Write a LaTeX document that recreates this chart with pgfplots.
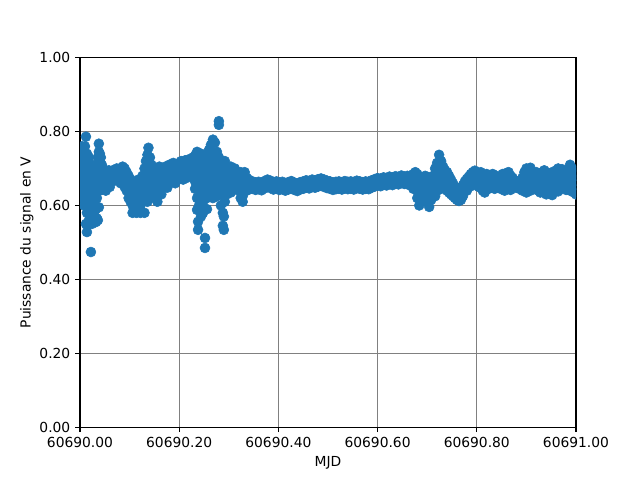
\documentclass[border=0pt]{standalone}
\usepackage{fontspec}
\setmainfont{DejaVu Sans}
\usepackage{pgfplots}
\pgfplotsset{compat=1.18}
\definecolor{mplblue}{RGB}{31,119,180}

\begin{document}
\begin{tikzpicture}
\useasboundingbox (-0.8in,-0.528in) rectangle (5.6in,4.272in);
\begin{axis}[
    at={(0,0)}, anchor=south west,
    scale only axis,
    width=4.96in, height=3.696in,
    xmin=0, xmax=1, ymin=0, ymax=1,
    xtick={0,0.2,0.4,0.6,0.8,1},
    xticklabels={60690.00,60690.20,60690.40,60690.60,60690.80,60691.00},
    ytick={0,0.2,0.4,0.6,0.8,1},
    yticklabel style={/pgf/number format/fixed, /pgf/number format/fixed zerofill, /pgf/number format/precision=2},
    /pgf/number format/assume math mode=true,
    xlabel={MJD},
    ylabel={Puissance du signal en V},
    ylabel style={yshift=-2.5pt},
    grid=major,
    major grid style={gray, line width=0.8pt},
    axis line style={black, line width=0.8pt},
    tick style={black, line width=0.8pt},
    major tick length=3.5pt,
    tick align=outside,
    tick pos=left,
    clip marker paths=true,
]
\addplot[only marks, mark=*, mark size=3.6pt, mplblue, mark options={draw=none, fill=mplblue}] coordinates {
(0.000,0.700) (0.000,0.680) (0.000,0.720) (0.000,0.740) (0.000,0.660)
(0.002,0.750) (0.002,0.690) (0.002,0.670) (0.002,0.710) (0.002,0.640)
(0.004,0.730) (0.004,0.700) (0.004,0.760) (0.004,0.680) (0.004,0.620)
(0.006,0.720) (0.006,0.690) (0.006,0.660) (0.006,0.650)
(0.008,0.740) (0.008,0.710) (0.008,0.680) (0.008,0.600)
(0.010,0.760) (0.010,0.700) (0.010,0.670) (0.010,0.640)
(0.012,0.786) (0.012,0.720) (0.012,0.690) (0.012,0.650) (0.012,0.610) (0.012,0.550)
(0.014,0.740) (0.014,0.700) (0.014,0.660) (0.014,0.580) (0.014,0.528)
(0.016,0.710) (0.016,0.680) (0.016,0.620) (0.016,0.600)
(0.018,0.730) (0.018,0.690) (0.018,0.650) (0.018,0.560) (0.018,0.550)
(0.020,0.700) (0.020,0.670) (0.020,0.620) (0.020,0.600)
(0.022,0.474) (0.022,0.690) (0.022,0.640)
(0.024,0.710) (0.024,0.680) (0.024,0.550) (0.024,0.580)
(0.026,0.700) (0.026,0.670) (0.026,0.640)
(0.028,0.690) (0.028,0.660) (0.028,0.620)
(0.030,0.700) (0.030,0.650) (0.030,0.600) (0.030,0.570)
(0.032,0.680) (0.032,0.640) (0.032,0.590) (0.032,0.555)
(0.034,0.710) (0.034,0.660) (0.034,0.620) (0.034,0.565)
(0.036,0.730) (0.036,0.690) (0.036,0.640) (0.036,0.560)
(0.038,0.767) (0.038,0.745) (0.038,0.700) (0.038,0.660) (0.038,0.595)
(0.040,0.740) (0.040,0.720) (0.040,0.680) (0.040,0.640)
(0.042,0.730) (0.042,0.700) (0.042,0.660)
(0.044,0.710) (0.044,0.690) (0.044,0.650)
(0.046,0.700) (0.046,0.670) (0.046,0.650)
(0.048,0.690) (0.048,0.660)
(0.050,0.680) (0.050,0.650) (0.052,0.640)
(0.054,0.690) (0.054,0.660) (0.054,0.670)
(0.058,0.680) (0.058,0.695) (0.058,0.665)
(0.062,0.690) (0.062,0.670) (0.060,0.650)
(0.066,0.685) (0.066,0.665) (0.066,0.695)
(0.070,0.690) (0.070,0.670) (0.070,0.680)
(0.074,0.700) (0.074,0.675)
(0.078,0.695) (0.078,0.670)
(0.082,0.700) (0.082,0.680) (0.082,0.660)
(0.086,0.705) (0.086,0.690) (0.086,0.665)
(0.090,0.700) (0.090,0.680) (0.090,0.650)
(0.094,0.690) (0.094,0.660) (0.094,0.640)
(0.098,0.680) (0.098,0.650) (0.098,0.620)
(0.102,0.670) (0.102,0.640) (0.102,0.610) (0.102,0.655)
(0.106,0.660) (0.106,0.630) (0.106,0.600) (0.106,0.580)
(0.110,0.650) (0.110,0.620) (0.110,0.590) (0.110,0.640)
(0.114,0.660) (0.114,0.630) (0.114,0.600) (0.114,0.580)
(0.118,0.650) (0.118,0.620) (0.118,0.640) (0.118,0.670)
(0.122,0.660) (0.122,0.630) (0.122,0.580) (0.122,0.600)
(0.126,0.680) (0.126,0.650) (0.126,0.620)
(0.130,0.700) (0.130,0.660) (0.130,0.630) (0.130,0.580)
(0.133,0.720) (0.133,0.690) (0.133,0.640)
(0.136,0.737) (0.136,0.700) (0.136,0.660) (0.136,0.610)
(0.138,0.756) (0.138,0.718) (0.138,0.680)
(0.141,0.730) (0.141,0.700) (0.141,0.660) (0.141,0.620)
(0.144,0.710) (0.144,0.680) (0.144,0.640)
(0.147,0.700) (0.147,0.670) (0.147,0.630)
(0.150,0.690) (0.150,0.660) (0.150,0.640)
(0.153,0.700) (0.153,0.660) (0.153,0.620)
(0.156,0.690) (0.156,0.650) (0.156,0.610) (0.156,0.675)
(0.160,0.705) (0.160,0.670) (0.160,0.640)
(0.164,0.690) (0.164,0.660) (0.164,0.630)
(0.168,0.700) (0.168,0.675) (0.168,0.650)
(0.172,0.705) (0.172,0.680) (0.172,0.655)
(0.176,0.695) (0.176,0.670) (0.176,0.648)
(0.180,0.710) (0.180,0.685) (0.180,0.660)
(0.184,0.705) (0.184,0.680) (0.184,0.665)
(0.188,0.715) (0.188,0.690) (0.188,0.670)
(0.192,0.705) (0.192,0.685) (0.192,0.660)
(0.196,0.710) (0.196,0.690) (0.196,0.670)
(0.200,0.715) (0.200,0.695) (0.200,0.675)
(0.204,0.720) (0.204,0.700) (0.204,0.680)
(0.208,0.710) (0.208,0.690) (0.208,0.670)
(0.212,0.722) (0.212,0.700) (0.212,0.680)
(0.216,0.715) (0.216,0.695) (0.216,0.675)
(0.220,0.725) (0.220,0.705) (0.220,0.685)
(0.224,0.720) (0.224,0.700) (0.224,0.680)
(0.228,0.730) (0.228,0.705) (0.228,0.685)
(0.232,0.735) (0.232,0.710) (0.232,0.690) (0.232,0.665) (0.232,0.645)
(0.236,0.745) (0.236,0.720) (0.236,0.695) (0.236,0.670) (0.236,0.620) (0.236,0.588)
(0.238,0.556) (0.238,0.534) (0.238,0.650)
(0.240,0.730) (0.240,0.705) (0.240,0.680) (0.240,0.655) (0.240,0.600)
(0.244,0.740) (0.244,0.715) (0.244,0.690) (0.244,0.660) (0.244,0.630) (0.244,0.570)
(0.248,0.725) (0.248,0.700) (0.248,0.675) (0.248,0.645) (0.248,0.610) (0.248,0.580)
(0.252,0.710) (0.252,0.690) (0.252,0.660) (0.252,0.635) (0.252,0.512) (0.252,0.485)
(0.256,0.735) (0.256,0.700) (0.256,0.670) (0.256,0.645) (0.256,0.620) (0.256,0.590)
(0.260,0.750) (0.260,0.715) (0.260,0.685) (0.260,0.655) (0.260,0.625)
(0.264,0.764) (0.264,0.730) (0.264,0.700) (0.264,0.670) (0.264,0.640)
(0.268,0.778) (0.268,0.740) (0.268,0.710) (0.268,0.680) (0.268,0.650) (0.268,0.620)
(0.272,0.770) (0.272,0.725) (0.272,0.695) (0.272,0.665) (0.272,0.640)
(0.276,0.745) (0.276,0.715) (0.276,0.685) (0.276,0.655) (0.276,0.625)
(0.280,0.828) (0.280,0.818) (0.280,0.730) (0.280,0.700) (0.280,0.670) (0.280,0.640)
(0.284,0.720) (0.284,0.690) (0.284,0.660) (0.284,0.630) (0.284,0.600)
(0.288,0.710) (0.288,0.680) (0.288,0.650) (0.288,0.580) (0.288,0.545)
(0.290,0.534) (0.290,0.570)
(0.292,0.720) (0.292,0.695) (0.292,0.665) (0.292,0.640) (0.292,0.610)
(0.296,0.705) (0.296,0.680) (0.296,0.655) (0.296,0.630)
(0.300,0.700) (0.300,0.675) (0.300,0.650)
(0.304,0.705) (0.304,0.680) (0.304,0.655) (0.304,0.635)
(0.308,0.690) (0.308,0.665) (0.308,0.645)
(0.312,0.700) (0.312,0.675) (0.312,0.650)
(0.316,0.690) (0.316,0.665) (0.316,0.645)
(0.320,0.685) (0.320,0.660) (0.320,0.640)
(0.324,0.690) (0.324,0.665) (0.324,0.620)
(0.328,0.680) (0.328,0.655) (0.328,0.610) (0.328,0.625)
(0.332,0.690) (0.332,0.665) (0.332,0.645)
(0.336,0.675) (0.336,0.655) (0.336,0.640)
(0.340,0.670) (0.340,0.650)
(0.344,0.665) (0.344,0.645)
(0.348,0.665) (0.348,0.645) (0.354,0.662) (0.354,0.642)
(0.360,0.664) (0.360,0.644) (0.366,0.661) (0.366,0.641)
(0.372,0.666) (0.372,0.646) (0.378,0.670) (0.378,0.650)
(0.384,0.667) (0.384,0.647) (0.390,0.663) (0.390,0.643)
(0.396,0.665) (0.396,0.645) (0.402,0.662) (0.402,0.642)
(0.408,0.664) (0.408,0.644) (0.414,0.660) (0.414,0.640)
(0.420,0.663) (0.420,0.643) (0.426,0.666) (0.426,0.646)
(0.432,0.662) (0.432,0.642) (0.438,0.659) (0.438,0.639)
(0.444,0.663) (0.444,0.643) (0.450,0.665) (0.450,0.645)
(0.456,0.668) (0.456,0.648) (0.462,0.666) (0.462,0.646)
(0.468,0.670) (0.468,0.650) (0.474,0.668) (0.474,0.648)
(0.480,0.671) (0.480,0.651) (0.486,0.673) (0.486,0.653)
(0.492,0.670) (0.492,0.650) (0.498,0.667) (0.498,0.647)
(0.504,0.665) (0.504,0.645) (0.510,0.662) (0.510,0.642)
(0.516,0.664) (0.516,0.644) (0.522,0.665) (0.522,0.645)
(0.528,0.663) (0.528,0.643) (0.534,0.666) (0.534,0.646)
(0.540,0.664) (0.540,0.644) (0.546,0.665) (0.546,0.645)
(0.552,0.663) (0.552,0.643) (0.558,0.667) (0.558,0.647)
(0.564,0.665) (0.564,0.645) (0.570,0.663) (0.570,0.643)
(0.576,0.665) (0.576,0.645) (0.582,0.664) (0.582,0.644)
(0.588,0.668) (0.588,0.648) (0.594,0.671) (0.594,0.651)
(0.600,0.674) (0.600,0.654) (0.606,0.672) (0.606,0.652)
(0.612,0.676) (0.612,0.656) (0.618,0.674) (0.618,0.654)
(0.624,0.678) (0.624,0.658) (0.630,0.675) (0.630,0.655)
(0.636,0.679) (0.636,0.659) (0.642,0.677) (0.642,0.657)
(0.648,0.681) (0.648,0.661) (0.654,0.678) (0.654,0.658)
(0.660,0.680) (0.660,0.660)
(0.664,0.675) (0.664,0.655)
(0.668,0.680) (0.668,0.660)
(0.672,0.685) (0.672,0.665) (0.672,0.645)
(0.676,0.690) (0.676,0.670) (0.676,0.650)
(0.680,0.685) (0.680,0.665) (0.680,0.640) (0.680,0.620)
(0.684,0.675) (0.684,0.650) (0.684,0.625) (0.684,0.600)
(0.688,0.665) (0.688,0.640) (0.688,0.615)
(0.692,0.670) (0.692,0.650) (0.692,0.630)
(0.696,0.680) (0.696,0.660) (0.696,0.640)
(0.700,0.677) (0.700,0.655) (0.700,0.630) (0.700,0.610)
(0.704,0.670) (0.704,0.645) (0.704,0.620) (0.704,0.596)
(0.708,0.665) (0.708,0.640) (0.708,0.615)
(0.712,0.680) (0.712,0.655) (0.712,0.630)
(0.716,0.700) (0.716,0.675) (0.716,0.650) (0.716,0.625)
(0.720,0.715) (0.720,0.690) (0.720,0.665) (0.720,0.640)
(0.724,0.737) (0.724,0.710) (0.724,0.680) (0.724,0.655)
(0.728,0.720) (0.728,0.695) (0.728,0.670) (0.728,0.645)
(0.732,0.705) (0.732,0.680) (0.732,0.655)
(0.736,0.695) (0.736,0.670) (0.736,0.645)
(0.740,0.690) (0.740,0.665) (0.740,0.640)
(0.744,0.680) (0.744,0.655) (0.744,0.635)
(0.748,0.670) (0.748,0.650) (0.748,0.630)
(0.752,0.660) (0.752,0.640) (0.752,0.625)
(0.756,0.650) (0.756,0.635) (0.756,0.620)
(0.760,0.645) (0.760,0.628) (0.760,0.615)
(0.764,0.640) (0.764,0.622) (0.764,0.612)
(0.768,0.645) (0.768,0.628) (0.768,0.615)
(0.772,0.655) (0.772,0.638) (0.772,0.625)
(0.776,0.665) (0.776,0.648)
(0.780,0.672) (0.780,0.655) (0.780,0.640)
(0.784,0.678) (0.784,0.662)
(0.788,0.685) (0.788,0.668) (0.788,0.652)
(0.792,0.690) (0.792,0.673)
(0.796,0.694) (0.796,0.678) (0.796,0.662)
(0.800,0.690) (0.800,0.672)
(0.804,0.685) (0.804,0.665) (0.804,0.650)
(0.808,0.690) (0.808,0.670) (0.808,0.650)
(0.812,0.680) (0.812,0.660) (0.812,0.640)
(0.816,0.675) (0.816,0.655) (0.816,0.635)
(0.820,0.685) (0.820,0.665) (0.820,0.648)
(0.824,0.680) (0.824,0.662) (0.824,0.645)
(0.828,0.672) (0.828,0.655)
(0.832,0.685) (0.832,0.665) (0.832,0.650)
(0.836,0.682) (0.836,0.662) (0.836,0.645)
(0.840,0.675) (0.840,0.658)
(0.844,0.670) (0.844,0.652)
(0.848,0.678) (0.848,0.660) (0.848,0.645)
(0.852,0.685) (0.852,0.665) (0.852,0.645)
(0.856,0.680) (0.856,0.660) (0.856,0.640)
(0.860,0.688) (0.860,0.668) (0.860,0.650)
(0.864,0.690) (0.864,0.670) (0.864,0.648)
(0.868,0.680) (0.868,0.660) (0.868,0.642)
(0.872,0.675) (0.872,0.655)
(0.876,0.668) (0.876,0.650)
(0.880,0.662) (0.880,0.648)
(0.884,0.660) (0.884,0.646)
(0.888,0.665) (0.888,0.650)
(0.892,0.675) (0.892,0.655) (0.892,0.640)
(0.896,0.690) (0.896,0.668) (0.896,0.645)
(0.900,0.700) (0.900,0.678) (0.900,0.655) (0.900,0.635)
(0.904,0.695) (0.904,0.672) (0.904,0.650)
(0.908,0.702) (0.908,0.680) (0.908,0.658) (0.908,0.640)
(0.912,0.690) (0.912,0.668) (0.912,0.648)
(0.916,0.685) (0.916,0.665) (0.916,0.645)
(0.920,0.690) (0.920,0.670) (0.920,0.650)
(0.924,0.685) (0.924,0.662) (0.924,0.640)
(0.928,0.680) (0.928,0.658) (0.928,0.635)
(0.932,0.690) (0.932,0.668) (0.932,0.645)
(0.936,0.695) (0.936,0.672) (0.936,0.650)
(0.940,0.690) (0.940,0.668) (0.940,0.630)
(0.944,0.685) (0.944,0.662) (0.944,0.640)
(0.948,0.680) (0.948,0.658) (0.948,0.638)
(0.952,0.690) (0.952,0.668) (0.952,0.628)
(0.956,0.685) (0.956,0.665) (0.956,0.645)
(0.960,0.695) (0.960,0.672) (0.960,0.650)
(0.964,0.700) (0.964,0.678) (0.964,0.655) (0.964,0.638)
(0.968,0.690) (0.968,0.668) (0.968,0.645)
(0.972,0.698) (0.972,0.675) (0.972,0.652)
(0.976,0.692) (0.976,0.670) (0.976,0.648)
(0.980,0.688) (0.980,0.665) (0.980,0.642)
(0.984,0.695) (0.984,0.672) (0.984,0.650)
(0.988,0.710) (0.988,0.685) (0.988,0.660) (0.988,0.640)
(0.992,0.700) (0.992,0.675) (0.992,0.650)
(0.996,0.690) (0.996,0.665) (0.996,0.635)
(1.000,0.680) (1.000,0.655) (1.000,0.630)
};
\end{axis}
\end{tikzpicture}
\end{document}
